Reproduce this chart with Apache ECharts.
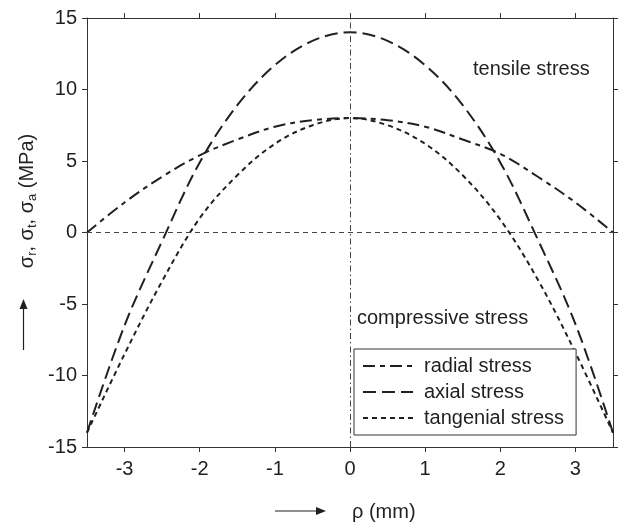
<!DOCTYPE html>
<html>
<head>
<meta charset="utf-8">
<title>stress</title>
<script src="https://cdn.jsdelivr.net/npm/echarts@6.0.0/dist/echarts.min.js"></script>
<style>
    html, body { margin: 0; padding: 0; background: #fff; }
    #main { width: 622px; height: 524px; }
</style>
</head>
<body>
<div id="main"></div>
<script>
// radius (mm)
var rho = [-3.5, -3, -2.5, -2, -1.5, -1, -0.5, 0, 0.5, 1, 1.5, 2, 2.5, 3, 3.5];
// stresses (MPa)
var radialStress = [0, 2.1, 3.9, 5.4, 6.5, 7.4, 7.85, 8, 7.85, 7.4, 6.5, 5.5, 3.9, 2.1, 0];
var axialStress = [-14, -6.5, -0.6, 4.9, 8.9, 11.7, 13.4, 14, 13.4, 11.7, 8.9, 4.9, -0.5, -6.4, -14];
var tangentialStress = [-14, -8.5, -3.4, 1.0, 4.0, 6.2, 7.5, 8, 7.5, 6.2, 4.0, 0.9, -3.3, -8.4, -14];
var seriesNames = ['radial stress', 'axial stress', 'tangenial stress'];
var xTicks = [-3, -2, -1, 0, 1, 2, 3];

var FONT = '"Liberation Sans", Arial, sans-serif';
var FS = 20;
var INK = '#231f20';

function pairs(ys) {
    var out = [];
    for (var i = 0; i < rho.length; i++) {
        out.push([rho[i], ys[i]]);
    }
    return out;
}

var chart = echarts.init(document.getElementById('main'));

var axisLine = { show: true, onZero: false, lineStyle: { color: '#333', width: 1 } };

function curve(name, ys, dash, extra) {
    var s = {
        name: name,
        type: 'line',
        data: pairs(ys),
        smooth: 0.35,
        showSymbol: false,
        symbol: 'none',
        lineStyle: { color: INK, width: 2, type: dash },
        itemStyle: { color: INK },
        z: 3
    };
    if (extra) {
        for (var k in extra) s[k] = extra[k];
    }
    return s;
}

var option = {
    animation: false,
    backgroundColor: '#fff',
    grid: { left: 87, right: 9, top: 18, bottom: 77 },
    legend: {
        orient: 'vertical',
        left: 354,
        top: 349,
        padding: [7, 12, 7, 8],
        itemWidth: 50,
        itemHeight: 14,
        itemGap: 6,
        borderColor: '#333',
        borderWidth: 1,
        backgroundColor: '#fff',
        data: seriesNames,
        itemStyle: { opacity: 0 },
        textStyle: { fontFamily: FONT, fontSize: FS, color: INK, padding: [0, 0, 0, 6] }
    },
    xAxis: [
        {
            type: 'value', min: -3.5, max: 3.5, position: 'bottom',
            axisLine: axisLine, splitLine: { show: false },
            axisTick: { show: true, length: 5, customValues: xTicks, lineStyle: { color: '#333' } },
            axisLabel: { customValues: xTicks, margin: 12, fontFamily: FONT, fontSize: FS, color: INK }
        },
        {
            type: 'value', min: -3.5, max: 3.5, position: 'top',
            axisLine: axisLine, splitLine: { show: false },
            axisTick: { show: true, length: 5, customValues: xTicks, lineStyle: { color: '#333' } },
            axisLabel: { show: false }
        }
    ],
    yAxis: [
        {
            type: 'value', min: -15, max: 15, interval: 5, position: 'left',
            axisLine: axisLine, splitLine: { show: false },
            axisTick: { show: true, length: 5, lineStyle: { color: '#333' } },
            axisLabel: { margin: 10, fontFamily: FONT, fontSize: FS, color: INK }
        },
        {
            type: 'value', min: -15, max: 15, interval: 5, position: 'right',
            axisLine: axisLine, splitLine: { show: false },
            axisTick: { show: true, length: 5, lineStyle: { color: '#333' } },
            axisLabel: { show: false }
        }
    ],
    graphic: [
        // y axis title
        {
            type: 'text', x: 27, y: 201, rotation: Math.PI / 2,
            style: {
                text: '{a|σ}{b|r}{a|, σ}{b|t}{a|, σ}{b|a}{a| (MPa)}',
                align: 'center', verticalAlign: 'middle',
                fill: INK, font: FS + 'px ' + FONT,
                rich: {
                    a: { fontSize: FS, fontFamily: FONT, fill: INK },
                    b: { fontSize: 13, fontFamily: FONT, fill: INK, padding: [10, 0, 0, 0] }
                }
            }
        },
        // arrow next to y title
        { type: 'line', shape: { x1: 23.5, y1: 350, x2: 23.5, y2: 306 }, style: { stroke: INK, lineWidth: 1.2 } },
        { type: 'polygon', shape: { points: [[23.5, 299], [19.5, 309], [27.5, 309]] }, style: { fill: INK } },
        // x axis title
        {
            type: 'text', x: 352, y: 512,
            style: { text: 'ρ (mm)', align: 'left', verticalAlign: 'middle', fill: INK, font: FS + 'px ' + FONT }
        },
        { type: 'line', shape: { x1: 275, y1: 511, x2: 318, y2: 511 }, style: { stroke: INK, lineWidth: 1.2 } },
        { type: 'polygon', shape: { points: [[326, 511], [316, 507], [316, 515]] }, style: { fill: INK } },
        // region notes
        {
            type: 'text', x: 473, y: 69,
            style: { text: 'tensile stress', align: 'left', verticalAlign: 'middle', fill: INK, font: FS + 'px ' + FONT }
        },
        {
            type: 'text', x: 357, y: 318,
            style: { text: 'compressive stress', align: 'left', verticalAlign: 'middle', fill: INK, font: FS + 'px ' + FONT }
        }
    ],
    series: [
        curve(seriesNames[0], radialStress, [12, 5, 5, 5], {
            // zero lines through the origin
            markLine: {
                silent: true,
                symbol: 'none',
                label: { show: false },
                data: [
                    { yAxis: 0, lineStyle: { color: '#444', width: 1, type: [5, 4] } },
                    { xAxis: 0, lineStyle: { color: '#444', width: 1, type: [6, 3, 1.5, 3] } }
                ]
            }
        }),
        curve(seriesNames[1], axialStress, [13, 6]),
        curve(seriesNames[2], tangentialStress, [5, 4])
    ]
};

chart.setOption(option);
</script>
</body>
</html>
